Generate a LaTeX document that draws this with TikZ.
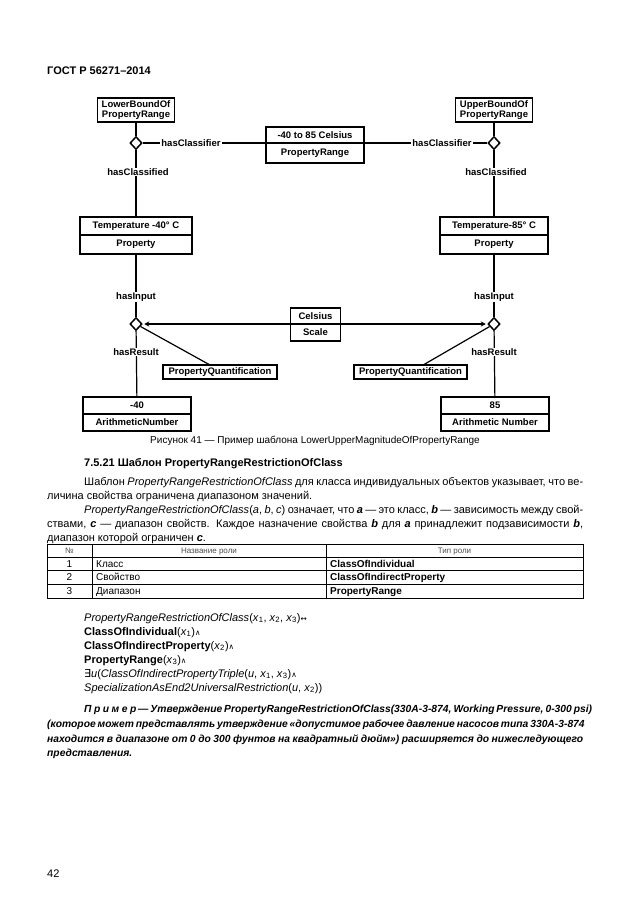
\documentclass[tikz,border=0pt]{standalone}
\usepackage{fontspec}
\setmainfont{Liberation Sans}
\newfontfamily\symfont{DejaVu Sans}
\usetikzlibrary{shapes.geometric,arrows.meta,positioning}
\newcommand{\sym}[1]{{\symfont\fontsize{7.5}{8}\selectfont #1}}
\newcommand{\bi}[1]{\textbf{\textit{#1}}}

\begin{document}
\begin{tikzpicture}[x=1pt,y=-1pt]
	\tikzstyle{cell} = [
		draw, line width = 1.3pt, inner sep = 0pt, outer sep = 0pt,
		font = \fontsize{9.5}{10}\selectfont\bfseries, align = center
	]
	\tikzstyle{link} = [
		diamond, draw, fill = white, line width = 1.5pt,
		inner sep = 0pt, minimum width = 12pt, minimum height = 13pt
	]
	\tikzstyle{lbl} = [fill = white, inner sep = 1pt, font = \fontsize{9.5}{10}\selectfont\bfseries]
	\tikzstyle{line} = [-, draw = black, line width = 1.2pt]
	\tikzstyle{arrow} = [line, shorten >= 1.5pt, -{Stealth[length = 5pt, width = 5pt]}]
	\tikzstyle{body} = [anchor = base west, inner sep = 0pt, font = \fontsize{11}{12}\selectfont]
	\fill[white] (0,0) rectangle (630,913);
	\useasboundingbox (0,0) rectangle (630,913);
	% page header
	\node[body, font = \fontsize{11}{12}\selectfont\bfseries] (gost) at (47,74.5) {ГОСТ Р 56271–2014};
	% diagram
	\node[cell, minimum width = 77pt, minimum height = 24pt] (lob) at (136,110) {LowerBoundOf\\PropertyRange};
	\node[cell, minimum width = 77pt, minimum height = 24pt] (upb) at (494,110) {UpperBoundOf\\PropertyRange};
	\node[link] (dtl) at (136,143) {};
	\node[link] (dtr) at (494,143) {};
	\node[cell, minimum width = 98pt, minimum height = 16pt] (r1) at (315,135) {-40 to 85 Celsius};
	\node[cell, minimum width = 98pt, minimum height = 20pt, below = 0pt of r1] (r2) {PropertyRange};
	\node[cell, minimum width = 112pt, minimum height = 18pt] (tl1) at (136,226) {Temperature -40° C};
	\node[cell, minimum width = 112pt, minimum height = 19pt, below = 0pt of tl1] (tl2) {Property};
	\node[cell, minimum width = 108pt, minimum height = 18pt] (tr1) at (494,226) {Temperature-85° C};
	\node[cell, minimum width = 108pt, minimum height = 19pt, below = 0pt of tr1] (tr2) {Property};
	\node[link] (dbl) at (136,324) {};
	\node[link] (dbr) at (494,324) {};
	\node[cell, minimum width = 50pt, minimum height = 16pt] (c1) at (315.5,316) {Celsius};
	\node[cell, minimum width = 50pt, minimum height = 17pt, below = 0pt of c1] (c2) {Scale};
	\node[cell, minimum width = 114pt, minimum height = 14pt] (pql) at (220,372) {PropertyQuantification};
	\node[cell, minimum width = 113pt, minimum height = 14pt] (pqr) at (410.5,372) {PropertyQuantification};
	\node[cell, minimum width = 108pt, minimum height = 17pt] (bl1) at (137,405.5) {-40};
	\node[cell, minimum width = 108pt, minimum height = 17pt, below = 0pt of bl1] (bl2) {ArithmeticNumber};
	\node[cell, minimum width = 108pt, minimum height = 17pt] (br1) at (495,405.5) {85};
	\node[cell, minimum width = 108pt, minimum height = 17pt, below = 0pt of br1] (br2) {Arithmetic Number};
	\draw (lob) to (dtl) [line];
	\draw (upb) to (dtr) [line];
	\draw (dtl) to (tl1) [line];
	\draw (dtr) to (tr1) [line];
	\draw (dtl.east) to (r1.south west) [line];
	\draw (dtr.west) to (r1.south east) [line];
	\draw (tl2) to (dbl) [line];
	\draw (tr2) to (dbr) [line];
	\draw (dbl) to (bl1) [line];
	\draw (dbr) to (br1) [line];
	\draw (c1.south west) to (dbl.east) [arrow];
	\draw (c1.south east) to (dbr.west) [arrow];
	\draw (dbl) to (pql.145) [line];
	\draw (dbr) to (pqr.29) [line];
	\node[lbl] (hcl) at (191,143) {hasClassifier};
	\node[lbl] (hcr) at (442,143) {hasClassifier};
	\node[lbl] (hdl) at (138,172) {hasClassified};
	\node[lbl] (hdr) at (496,172) {hasClassified};
	\node[lbl] (hil) at (136,297) {hasInput};
	\node[lbl] (hir) at (494,297) {hasInput};
	\node[lbl] (hrl) at (136,352) {hasResult};
	\node[lbl] (hrr) at (494,352) {hasResult};
	\node[inner sep = 0pt, font = \fontsize{10}{11}\selectfont] (cap) at (315,441) {Рисунок 41 — Пример шаблона LowerUpperMagnitudeOfPropertyRange};
	% section text
	\node[body, font = \fontsize{11}{12}\selectfont\bfseries] (head) at (84,466) {7.5.21 Шаблон PropertyRangeRestrictionOfClass};
	\node[body] (p1) at (84,485) {\makebox[499pt][s]{Шаблон \textit{PropertyRangeRestrictionOfClass} для класса индивидуальных объектов указывает, что ве-}};
	\node[body] (p2) at (47,499) {личина свойства ограничена диапазоном значений.};
	\node[body] (p3) at (84,513) {\makebox[499pt][s]{\textit{PropertyRangeRestrictionOfClass}(\textit{a}, \textit{b}, \textit{c}) означает, что \bi{a} — это класс, \bi{b} — зависимость между свой-}};
	\node[body] (p4) at (47,527) {\makebox[536pt][s]{ствами, \bi{c} — диапазон свойств. Каждое назначение свойства \bi{b} для \bi{a} принадлежит подзависимости \bi{b},}};
	\node[body] (p5) at (47,541) {диапазон которой ограничен \bi{c}.};
	% role table
	\draw[line width = 0.6pt] (47,544) rectangle (583,598);
	\foreach \y in {557,570,584} \draw[line width = 0.6pt] (47,\y) -- (583,\y);
	\foreach \x in {92,326} \draw[line width = 0.6pt] (\x,544) -- (\x,598);
	\tikzstyle{head} = [anchor = base, inner sep = 0pt, text = black!70, font = \fontsize{8}{9}\selectfont]
	\tikzstyle{row} = [anchor = base west, inner sep = 0pt, font = \fontsize{10}{11}\selectfont]
	\node[head] (hn) at (69.5,553.5) {№};
	\node[head] (hname) at (209,553.5) {Название роли};
	\node[head] (htype) at (454.5,553.5) {Тип роли};
	\foreach \n/\y/\role/\type in {1/567/Класс/ClassOfIndividual, 2/580.5/Свойство/ClassOfIndirectProperty, 3/594.5/Диапазон/PropertyRange} {
		\node[row, anchor = base] (n\n) at (69.5,\y) {\n};
		\node[row] (role\n) at (96,\y) {\role};
		\node[row, font = \fontsize{10}{11}\selectfont\bfseries] (type\n) at (330,\y) {\type};
	}
	% formula
	\node[body] (f1) at (84,621) {\textit{PropertyRangeRestrictionOfClass}(\textit{x}\textsubscript{1}, \textit{x}\textsubscript{2}, \textit{x}\textsubscript{3})\sym{↔}};
	\node[body] (f2) at (84,635) {\textbf{ClassOfIndividual}(\textit{x}\textsubscript{1})\sym{∧}};
	\node[body] (f3) at (84,649) {\textbf{ClassOfIndirectProperty}(\textit{x}\textsubscript{2})\sym{∧}};
	\node[body] (f4) at (84,663) {\textbf{PropertyRange}(\textit{x}\textsubscript{3})\sym{∧}};
	\node[body] (f5) at (84,677) {{\symfont ∃}\textit{u}(\textit{ClassOfIndirectPropertyTriple}(\textit{u}, \textit{x}\textsubscript{1}, \textit{x}\textsubscript{3})\sym{∧}};
	\node[body] (f6) at (84,691) {\textit{SpecializationAsEnd2UniversalRestriction}(\textit{u}, \textit{x}\textsubscript{2}))};
	% example
	\tikzstyle{note} = [body, font = \fontsize{10.3}{12}\selectfont\bfseries\itshape]
	\node[note] (e1) at (84,712) {\makebox[499pt][s]{П\kern2.5pt р\kern2.5pt и\kern2.5pt м\kern2.5pt е\kern2.5pt р — Утверждение PropertyRangeRestrictionOfClass(330A-3-874, Working Pressure, 0-300 psi)}};
	\node[note] (e2) at (47,727) {\makebox[536pt][s]{(которое может представлять утверждение «допустимое рабочее давление насосов типа 330A-3-874}};
	\node[note] (e3) at (47,742) {\makebox[536pt][s]{находится в диапазоне от 0 до 300 фунтов на квадратный дюйм») расширяется до нижеследующего}};
	\node[note] (e4) at (47,756) {представления.};
	% page number
	\node[body] (page) at (47,877) {42};
\end{tikzpicture}
\end{document}
